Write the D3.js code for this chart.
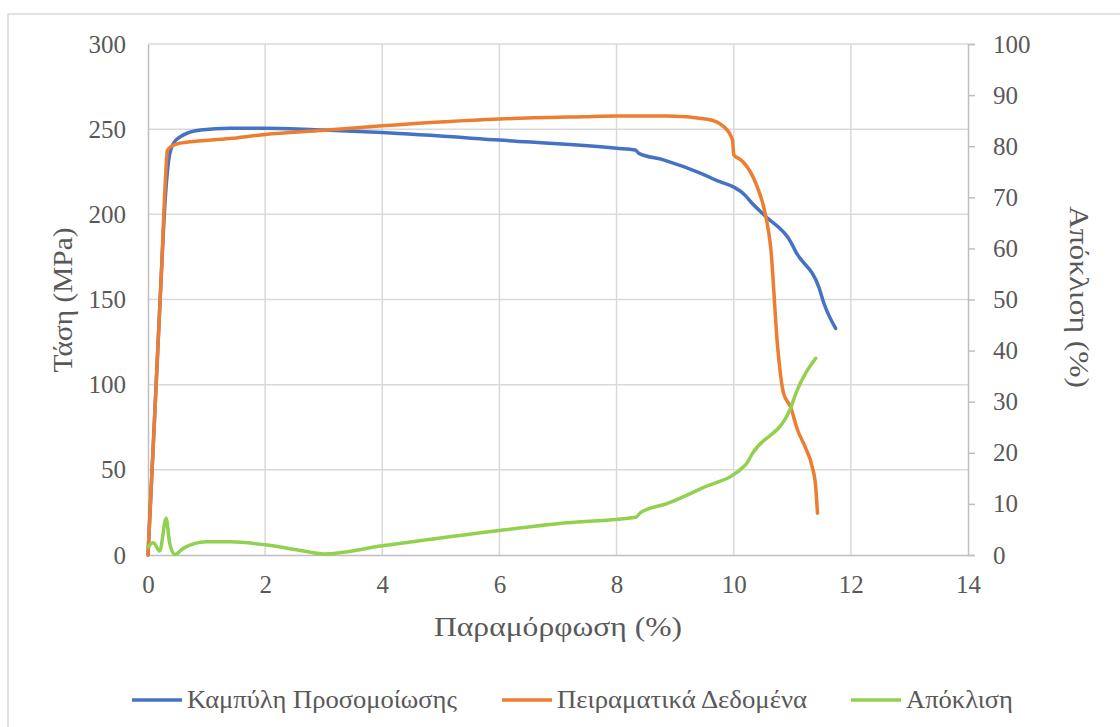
<!DOCTYPE html>
<html>
<head>
<meta charset="utf-8">
<script src="https://cdn.jsdelivr.net/npm/d3@7"></script>
<style>
  body { margin: 0; background: #fff; }
  svg { display: block; }
</style>
</head>
<body>
<div id="chart"></div>
<script>
// Τάση - Παραμόρφωση, simulation vs experiment, plus deviation (right axis)

// Καμπύλη Προσομοίωσης (strain %, stress MPa)
let simStrain = [0, 0.1, 0.2, 0.3, 0.35, 0.43, 0.6, 0.9, 1.4, 2.0, 3.0, 4.0, 6.0, 8.0, 8.32, 8.38, 8.8, 9.44, 9.66, 10.2, 10.29, 10.55, 10.97, 11.06, 11.46, 11.54, 11.74];
let simStress = [0, 72, 145, 212, 231, 241.4, 246.5, 249.5, 250.5, 250.5, 249.5, 248, 243.6, 238.8, 237.8, 235.8, 232, 224, 220.6, 211, 207.4, 198.6, 184, 178, 156.6, 147.8, 133];

// Πειραματικά Δεδομένα
let expStrain = [0, 0.02, 0.12, 0.23, 0.3, 0.33, 0.38, 0.55, 1.4, 2.0, 3.0, 4.0, 6.0, 7.44, 8.0, 8.86, 9.55, 9.83, 9.98, 10.0, 10.12, 10.18, 10.38, 10.55, 10.63, 10.75, 10.85, 10.97, 11.09, 11.23, 11.34, 11.4, 11.43];
let expStress = [0, 14.7, 85.5, 166.5, 222, 237.4, 239.4, 241.8, 244.5, 246.9, 249.3, 252, 256, 257.3, 257.7, 257.7, 255.8, 251.5, 243.6, 235, 232, 230, 218, 198.6, 181, 122, 95, 87, 73.4, 62.6, 51.8, 40, 24.5];

// Απόκλιση (%)
let devStrain = [0, 0.09, 0.2, 0.31, 0.37, 0.46, 0.6, 1.0, 1.4, 2.0, 2.6, 3.0, 4.0, 6.0, 7.15, 8.33, 8.41, 8.87, 9.44, 10.2, 10.32, 10.97, 11.06, 11.4];
let devValue = [1.6, 2.4, 0.8, 7.2, 2.3, 0.1, 1.3, 2.6, 2.6, 2.0, 0.9, 0.2, 1.8, 4.8, 6.3, 7.4, 8.3, 10.1, 13.0, 17.6, 19.9, 28.7, 31.6, 38.5];

let xTicks = [0, 2, 4, 6, 8, 10, 12, 14];
let yTicks = [0, 50, 100, 150, 200, 250, 300];
let y2Ticks = [0, 10, 20, 30, 40, 50, 60, 70, 80, 90, 100];

let seriesNames = ["Καμπύλη Προσομοίωσης", "Πειραματικά Δεδομένα", "Απόκλιση"];
let seriesColors = ["#4472C4", "#ED7D31", "#92D050"];

let W = 1120, H = 727;
let margin = { top: 44, right: 152, bottom: 172, left: 148 };
let plotW = W - margin.left - margin.right;
let plotH = H - margin.top - margin.bottom;

let font = "'Liberation Serif', 'DejaVu Serif Condensed', 'DejaVu Serif', serif";
let textCol = "#595959";

let svg = d3.select("#chart").append("svg")
  .attr("width", W)
  .attr("height", H)
  .style("font-family", font);

// chart frame
svg.append("rect")
  .attr("x", 8).attr("y", 14)
  .attr("width", W + 20).attr("height", H + 20)
  .attr("fill", "none")
  .attr("stroke", "#d9d9d9")
  .attr("stroke-width", 1.5);

let g = svg.append("g").attr("transform", "translate(" + margin.left + "," + margin.top + ")");

let x = d3.scaleLinear().domain([0, 14]).range([0, plotW]);
let y = d3.scaleLinear().domain([0, 300]).range([plotH, 0]);
let y2 = d3.scaleLinear().domain([0, 100]).range([plotH, 0]);

// gridlines
g.append("g").selectAll("line.h")
  .data(yTicks.filter(d => d > 0))
  .enter().append("line")
  .attr("x1", 0).attr("x2", plotW)
  .attr("y1", d => y(d)).attr("y2", d => y(d))
  .attr("stroke", "#d9d9d9").attr("stroke-width", 1.5);

g.append("g").selectAll("line.v")
  .data(xTicks.filter(d => d > 0 && d < 14))
  .enter().append("line")
  .attr("y1", 0).attr("y2", plotH)
  .attr("x1", d => x(d)).attr("x2", d => x(d))
  .attr("stroke", "#d9d9d9").attr("stroke-width", 1.5);

// axes
let xAxis = g.append("g")
  .attr("transform", "translate(0," + plotH + ")")
  .call(d3.axisBottom(x).tickValues(xTicks).tickSize(0).tickPadding(20));

let yAxis = g.append("g")
  .call(d3.axisLeft(y).tickValues(yTicks).tickSize(0).tickPadding(22));

let y2Axis = g.append("g")
  .attr("transform", "translate(" + plotW + ",0)")
  .call(d3.axisRight(y2).tickValues(y2Ticks).tickSize(7).tickPadding(18));

[xAxis, yAxis, y2Axis].forEach(a => {
  a.select(".domain").attr("stroke", "#bfbfbf").attr("stroke-width", 1.5);
  a.selectAll(".tick line").attr("stroke", "#bfbfbf").attr("stroke-width", 1.5);
  a.selectAll("text")
    .attr("fill", textCol)
    .style("font-family", font)
    .style("font-size", "25px");
});

// lines
let line = d3.line()
  .x(d => x(d[0]))
  .y(d => y(d[1]))
  .curve(d3.curveMonotoneX);

let line2 = d3.line()
  .x(d => x(d[0]))
  .y(d => y2(d[1]))
  .curve(d3.curveMonotoneX);

let simData = d3.zip(simStrain, simStress);
let expData = d3.zip(expStrain, expStress);
let devData = d3.zip(devStrain, devValue);

[[simData, line, 0], [expData, line, 1], [devData, line2, 2]].forEach(s => {
  g.append("path").datum(s[0])
    .attr("d", s[1])
    .attr("fill", "none")
    .attr("stroke", seriesColors[s[2]])
    .attr("stroke-width", 3.5)
    .attr("stroke-linejoin", "round")
    .attr("stroke-linecap", "round");
});

// axis titles
svg.append("text")
  .attr("x", 558)
  .attr("y", 636)
  .attr("text-anchor", "middle")
  .attr("fill", textCol)
  .attr("textLength", 248)
  .attr("lengthAdjust", "spacingAndGlyphs")
  .style("font-size", "28px")
  .text("Παραμόρφωση (%)");

svg.append("text")
  .attr("transform", "translate(72,300) rotate(-90)")
  .attr("text-anchor", "middle")
  .attr("fill", textCol)
  .attr("textLength", 145)
  .attr("lengthAdjust", "spacingAndGlyphs")
  .style("font-size", "28px")
  .text("Τάση (MPa)");

svg.append("text")
  .attr("transform", "translate(1070,297) rotate(90)")
  .attr("text-anchor", "middle")
  .attr("fill", textCol)
  .attr("textLength", 182)
  .attr("lengthAdjust", "spacingAndGlyphs")
  .style("font-size", "28px")
  .text("Απόκλιση (%)");

// legend
let legendX = [132, 502, 851];
let legendW = [270, 250, 107];
let items = svg.append("g").selectAll("g")
  .data(seriesNames)
  .enter().append("g")
  .attr("transform", (d, i) => "translate(" + legendX[i] + ",700)");

items.append("line")
  .attr("x1", 0).attr("x2", 50)
  .attr("y1", 0).attr("y2", 0)
  .attr("stroke", (d, i) => seriesColors[i])
  .attr("stroke-width", 3.5);

items.append("text")
  .attr("x", 55)
  .attr("y", 0)
  .attr("dy", "0.33em")
  .attr("fill", textCol)
  .attr("textLength", (d, i) => legendW[i])
  .attr("lengthAdjust", "spacingAndGlyphs")
  .style("font-size", "25px")
  .text(d => d);
</script>
</body>
</html>
